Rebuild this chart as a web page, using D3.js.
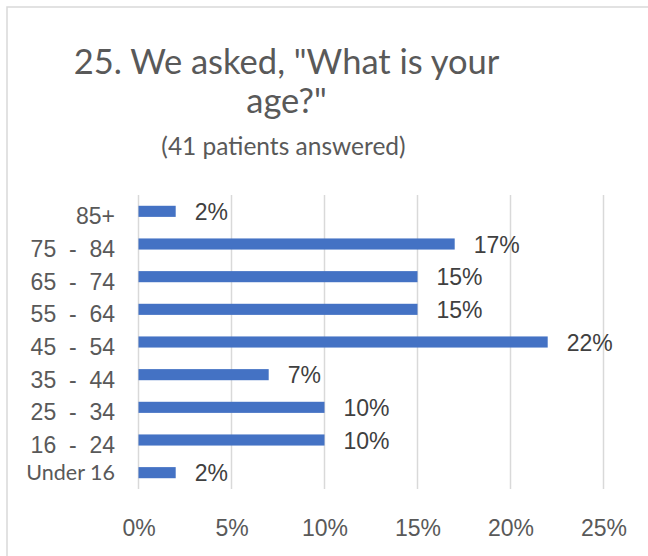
<!DOCTYPE html>
<html>
<head>
<meta charset="utf-8">
<script src="https://cdn.jsdelivr.net/npm/d3@7"></script>
<style>
  html, body { margin: 0; padding: 0; background: #fff; }
  svg { display: block; }
</style>
</head>
<body>
<svg width="648" height="556"></svg>
<script>
const categories = ['85+', '75  -  84', '65  -  74', '55  -  64', '45  -  54', '35  -  44', '25  -  34', '16  -  24', 'Under 16'];
const values = [2, 17, 15, 15, 22, 7, 10, 10, 2];
const xTicks = [0, 5, 10, 15, 20, 25];
const titleLines = ['25. We asked, "What is your', 'age?"'];
const subtitle = '(41 patients answered)';

const svg = d3.select('svg');
const width = +svg.attr('width');
const height = +svg.attr('height');

const plotL = 138.5, plotR = 603.5, plotT = 195, plotB = 489;
const armFont = '"Liberation Sans", Arial, sans-serif';
const caliFont = 'Lato, "Open Sans", sans-serif';

// frame
svg.append('rect')
    .attr('x', 7).attr('y', 7)
    .attr('width', width + 20).attr('height', height + 20)
    .attr('fill', 'none')
    .attr('stroke', '#d9d9d9')
    .attr('stroke-width', 1.5);

const x = d3.scaleLinear().domain([0, 25]).range([plotL, plotR]);
const y = d3.scaleBand().domain(categories).range([plotT, plotB])
    .paddingInner(0.66).paddingOuter(0.33);

// title
svg.selectAll('.title')
    .data(titleLines)
    .enter()
    .append('text')
        .attr('class', 'title')
        .attr('x', 286.5)
        .attr('y', (d, i) => 74 + i * 39)
        .attr('text-anchor', 'middle')
        .attr('font-family', caliFont)
        .attr('font-size', 34.5)
        .attr('fill', '#595959')
        .text(d => d);

svg.append('text')
    .attr('x', 283.5)
    .attr('y', 155)
    .attr('text-anchor', 'middle')
    .attr('font-family', caliFont)
    .attr('font-size', 24.5)
    .attr('fill', '#595959')
    .text(subtitle);

// gridlines
svg.append('g')
    .selectAll('line')
    .data(xTicks)
    .enter()
    .append('line')
        .attr('x1', d => x(d)).attr('x2', d => x(d))
        .attr('y1', plotT).attr('y2', plotB)
        .attr('stroke', '#d9d9d9')
        .attr('stroke-width', 1.5);

// x axis labels
const xAxis = d3.axisBottom(x).tickValues(xTicks).tickSize(0).tickPadding(0)
    .tickFormat(d => d + '%');
const gx = svg.append('g')
    .attr('transform', `translate(0, ${plotB})`)
    .call(xAxis);
gx.select('.domain').remove();
gx.selectAll('text')
    .attr('dy', null)
    .attr('y', 47)
    .attr('font-family', armFont)
    .attr('font-size', 23)
    .attr('fill', '#595959');

// y axis labels
const yAxis = d3.axisLeft(y).tickSize(0).tickPadding(0);
const gy = svg.append('g')
    .attr('transform', `translate(115, 0)`)
    .call(yAxis);
gy.select('.domain').remove();
gy.selectAll('text')
    .attr('dy', null)
    .attr('x', 0)
    .attr('y', d => d === 'Under 16' ? 7.5 : 13)
    .style('white-space', 'pre')
    .attr('font-family', d => d === 'Under 16' ? caliFont : armFont)
    .attr('font-size', d => d === 'Under 16' ? 21.5 : 23)
    .attr('fill', '#595959');

// bars
const rows = categories.map((c, i) => ({ cat: c, val: values[i] }));
svg.selectAll('.bar')
    .data(rows)
    .enter()
    .append('rect')
        .attr('class', 'bar')
        .attr('x', x(0))
        .attr('y', d => y(d.cat))
        .attr('width', d => x(d.val) - x(0))
        .attr('height', y.bandwidth())
        .attr('fill', '#4472c4');

// data labels
svg.selectAll('.lbl')
    .data(rows)
    .enter()
    .append('text')
        .attr('class', 'lbl')
        .attr('x', d => x(d.val) + 19)
        .attr('y', d => y(d.cat) + y.bandwidth() / 2 + 8.5)
        .attr('font-family', armFont)
        .attr('font-size', 23)
        .attr('fill', '#404040')
        .text(d => d.val + '%');
</script>
</body>
</html>
